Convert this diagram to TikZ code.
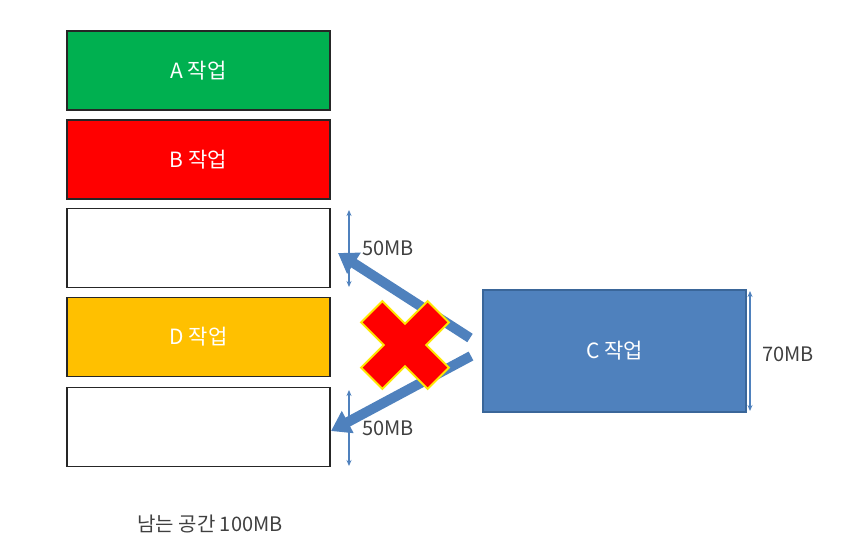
\documentclass[tikz,border=0pt]{standalone}
\usepackage{fontspec}
\setmainfont{Noto Sans CJK KR}
\usepackage{xcolor}
\usetikzlibrary{arrows.meta}
\definecolor{JobGreen}{HTML}{00B050}
\definecolor{JobRed}{HTML}{FF0000}
\definecolor{JobGold}{HTML}{FFC000}
\definecolor{JobBlue}{HTML}{4F81BD}
\definecolor{JobEdge}{HTML}{3A6699}
\definecolor{JobText}{HTML}{404040}
\tikzset{
  slot/.style={draw=black!85,line width=1.3pt,minimum width=263pt,minimum height=79pt,inner sep=0pt,text=white,font=\fontsize{21}{24}\selectfont},
  sizemark/.style={JobBlue,line width=1.2pt,{Stealth[length=6pt,width=5pt]}-{Stealth[length=6pt,width=5pt]}},
  sizetext/.style={text=JobText,font=\fontsize{20}{23}\selectfont,inner sep=0pt},
  moveto/.style={JobBlue,line width=10pt,-{Triangle[length=19pt,width=24pt]}},
  crossmark/.style={fill=JobRed,draw=yellow!90!orange,line width=2pt,line join=miter}
}
\begin{document}
\begin{tikzpicture}[x=1pt,y=-1pt]
\path[use as bounding box] (0,0) rectangle (849,550);
% memory slots
\node[slot,fill=JobGreen] (a) at (198.5,70.5) {A 작업};
\node[slot,fill=JobRed] (b) at (198.5,159.5) {B 작업};
\node[slot,fill=white] (free1) at (198.5,248) {};
\node[slot,fill=JobGold] (d) at (198.5,337) {D 작업};
\node[slot,fill=white] (free2) at (198.5,427) {};
% job to place
\node[slot,draw=JobEdge,fill=JobBlue,minimum height=122pt] (c) at (614.5,351) {C 작업};
% sizes
\coordinate (c top) at (750,291);
\coordinate (c bot) at (750,411);
\draw[sizemark] (c top) -- (c bot);
\node[sizetext,anchor=west] (c size) at (762,354) {70MB};
\coordinate (f1 top) at (349,210);
\coordinate (f1 bot) at (349,287);
\draw[sizemark] (f1 top) -- (f1 bot);
\node[sizetext,anchor=west] (f1 size) at (362,248) {50MB};
\coordinate (f2 top) at (349,390);
\coordinate (f2 bot) at (349,466);
\draw[sizemark] (f2 top) -- (f2 bot);
\node[sizetext,anchor=west] (f2 size) at (362,428) {50MB};
% attempted moves
\coordinate (tail1) at (470,338);
\coordinate (head1) at (338,253);
\coordinate (tail2) at (471,356);
\coordinate (head2) at (331,431);
\draw[moveto] (tail1) -- (head1);
\draw[moveto] (tail2) -- (head2);
% no fit
\draw[crossmark,rotate around={45:(405,345)}] (390,298) -- (420,298) -- (420,330) -- (452,330) -- (452,360) -- (420,360) -- (420,392) -- (390,392) -- (390,360) -- (358,360) -- (358,330) -- (390,330) -- cycle;
\node[sizetext] (left) at (210,524) {남는 공간 100MB};
\end{tikzpicture}
\end{document}
